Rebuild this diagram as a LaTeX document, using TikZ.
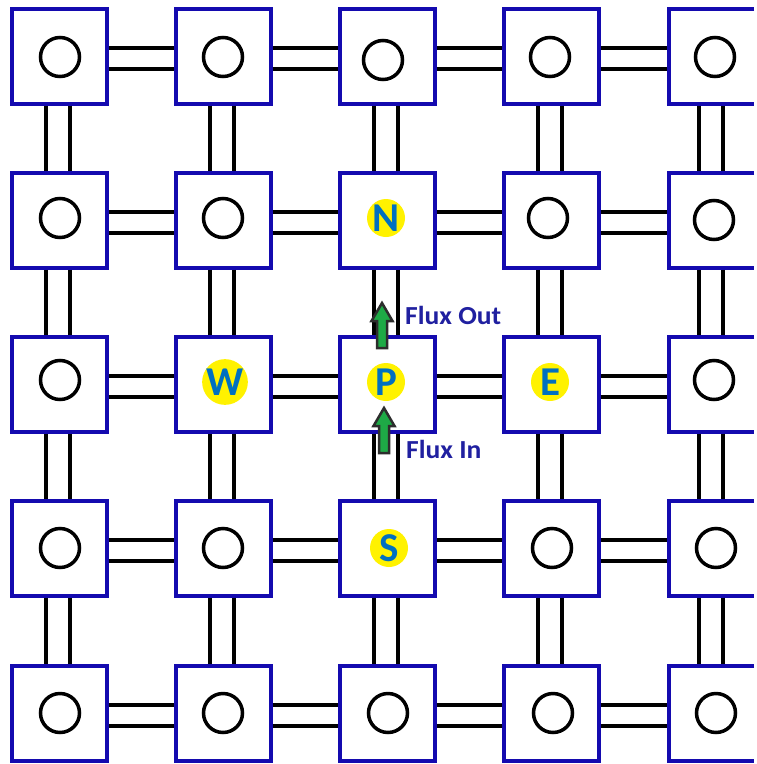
\documentclass[tikz,border=0pt]{standalone}
\usepackage{fontspec}
\setmainfont{Carlito}
\usetikzlibrary{calc}
\definecolor{boxblue}{RGB}{20,10,175}
\definecolor{lblue}{RGB}{0,112,192}
\definecolor{txtblue}{RGB}{32,32,160}
\definecolor{fgreen}{RGB}{30,170,70}
\definecolor{agray}{RGB}{45,45,45}
\newcommand\fluxarrow[4]{% x, tip, headbase, base
  \draw[agray, line width=2.5pt, fill=fgreen, line join=miter]
    (#1-5,#4) -- (#1-5,#3) -- (#1-10.5,#3) -- (#1,#2) -- (#1+10.5,#3) -- (#1+5,#3) -- (#1+5,#4) -- cycle;}
\begin{document}
\begin{tikzpicture}[x=1pt,y=-1pt,
  cell/.style={draw=boxblue, line width=4pt, minimum size=95pt, inner sep=0pt, fill=white},
  cellR/.style={line width=4pt, minimum width=85pt, minimum height=95pt, inner sep=0pt},
  hole/.style={circle, draw=black, line width=3.5pt, minimum size=39pt, inner sep=0pt},
  lett/.style={circle, fill=yellow, minimum size=38pt, inner sep=0pt, text=lblue,
    font=\fontsize{41}{41}\selectfont\bfseries},
  conn/.style={black, line width=4pt},
  flux/.style={text=txtblue, font=\fontsize{26}{26}\selectfont\bfseries, inner sep=0pt, anchor=base west}]
\fill[white] (0,0) rectangle (756,764);
\useasboundingbox (0,0) rectangle (756,764);
% boxes
\foreach \i/\y in {1/56,2/220,3/384,4/548,5/713} {
  \foreach \j/\x in {1/59,2/223,3/387,4/551}
    \node[cell] (b\i\j) at (\x,\y) {};
  \node[cellR] (b\i5) at (711.5,\y) {};
  \draw[boxblue, line width=4pt] ($(b\i5.north east)+(-2,2)$) -- ($(b\i5.north west)+(2,2)$)
    -- ($(b\i5.south west)+(2,-2)$) -- ($(b\i5.south east)+(-2,-2)$);
}
% horizontal connectors
\foreach \i in {1,...,5}
  \foreach \j/\k in {1/2,2/3,3/4,4/5} {
    \draw[conn] ($(b\i\j.east)+(0,-8)$) -- ($(b\i\k.west)+(0,-8)$);
    \draw[conn] ($(b\i\j.east)+(0,13)$) -- ($(b\i\k.west)+(0,13)$);
  }
% vertical connectors
\foreach \i/\k in {1/2,2/3,3/4,4/5}
  \foreach \j in {1,...,5} {
    \draw[conn] ($(b\i\j.south)+(-13,0)$) -- ($(b\k\j.north)+(-13,0)$);
    \draw[conn] ($(b\i\j.south)+(11,0)$) -- ($(b\k\j.north)+(11,0)$);
  }
% hollow circles
\foreach \n/\x/\y in {11/60/57,12/223/57,13/383/60,14/550/57,15/715/57,
  21/60/218,22/223/218,24/548/218,25/714/220,
  31/60/380,35/714/380,
  41/60/548,42/223/548,44/552/548,45/716/548,
  51/60/713,52/223/713,53/388/713,54/553/713,55/716/713}
  \node[hole] (c\n) at (\x,\y) {};
% labelled circles
\node[lett] (N) at (386,218) {N};
\node[lett] (W) at (225,382) {W};
\node[lett] (P) at (386,382) {P};
\node[lett] (E) at (550,382) {E};
\node[lett] (S) at (389,548) {S};
% flux arrows
\fluxarrow{382}{303}{321}{348}
\fluxarrow{384}{408}{426}{453}
\node[flux] (fout) at (405,324) {\scalebox{1.06}[1]{Flux Out}};
\node[flux] (fin) at (406,458) {\scalebox{1.06}[1]{Flux In}};
\end{tikzpicture}
\end{document}
